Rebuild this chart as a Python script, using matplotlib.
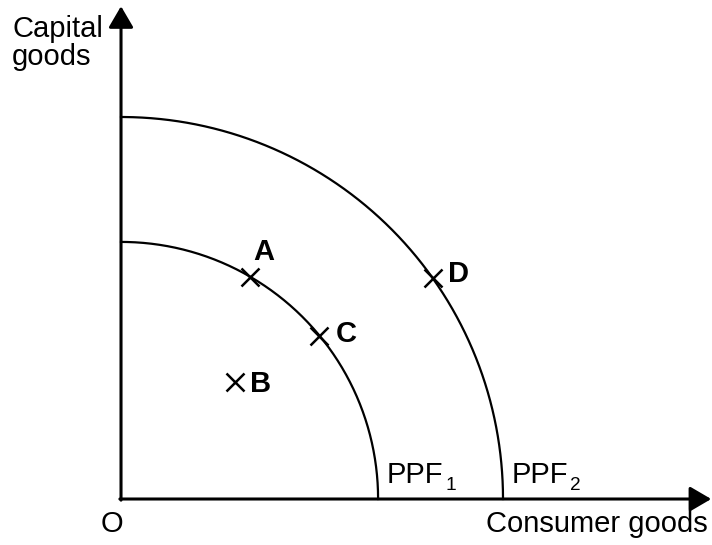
import matplotlib.pyplot as plt
import numpy as np

plt.rcParams["font.family"] = ["Liberation Sans", "DejaVu Sans"]

# ── data (consumer goods, capital goods) ──────────
ppf_names = ["PPF", "PPF"]
ppf_subs = ["1", "2"]
ppf_radius = [6.73, 10.0]

point_names = ["A", "B", "C", "D"]
point_x = [3.38, 2.98, 5.19, 8.16]
point_y = [5.82, 3.07, 4.27, 5.79]
# label offsets in pixels from the cross
label_dx = [3, 15, 16, 15]
label_dy = [17, -10, -6, -4]

x_max = 15.45
y_max = 12.9

FS = 21

fig = plt.figure(figsize=(7.12, 5.45), dpi=100)
ax = fig.add_axes([0, 0, 1, 1])
ax.set_xlim(-3.168, 15.471)
ax.set_ylim(-1.204, 13.063)
ax.axis("off")

# ── axes with arrow heads ─────────────────────────
arrow = dict(arrowstyle="-|>,head_length=0.65,head_width=0.38",
             mutation_scale=20, lw=2.2, color="black",
             shrinkA=0, shrinkB=0)
ax.annotate("", xy=(x_max, 0), xytext=(-0.03, 0), arrowprops=arrow)
ax.annotate("", xy=(0, y_max), xytext=(0, -0.03), arrowprops=arrow)

# ── frontiers ─────────────────────────────────────
theta = np.linspace(0, np.pi / 2, 200)
for name, sub, r in zip(ppf_names, ppf_subs, ppf_radius):
    ax.plot(r * np.cos(theta), r * np.sin(theta), color="black", lw=1.6)
    ax.annotate(name, xy=(r, 0), xytext=(9, 16), textcoords="offset pixels",
                ha="left", va="baseline", fontsize=FS)
    ax.annotate(sub, xy=(r, 0), xytext=(67, 9), textcoords="offset pixels",
                ha="left", va="baseline", fontsize=FS * 0.65)

# ── points ────────────────────────────────────────
ax.plot(point_x, point_y, "x", color="black", ms=13.5, mew=1.8)
for n, x, y, dx, dy in zip(point_names, point_x, point_y, label_dx, label_dy):
    ax.annotate(n, xy=(x, y), xytext=(dx, dy), textcoords="offset pixels",
                ha="left", va="baseline", fontsize=FS, fontweight="bold")

# ── labels ────────────────────────────────────────
ax.annotate("O", xy=(0, 0), xytext=(-9, -33), textcoords="offset pixels",
            ha="center", va="baseline", fontsize=FS)
ax.text(0.994, 0.024, "Consumer goods", transform=ax.transAxes,
        ha="right", va="baseline", fontsize=FS)
ax.text(0.017, 0.932, "Capital", transform=ax.transAxes,
        ha="left", va="baseline", fontsize=FS)
ax.text(0.017, 0.881, "goods", transform=ax.transAxes,
        ha="left", va="baseline", fontsize=FS)

fig.savefig("out.png", dpi=100)
